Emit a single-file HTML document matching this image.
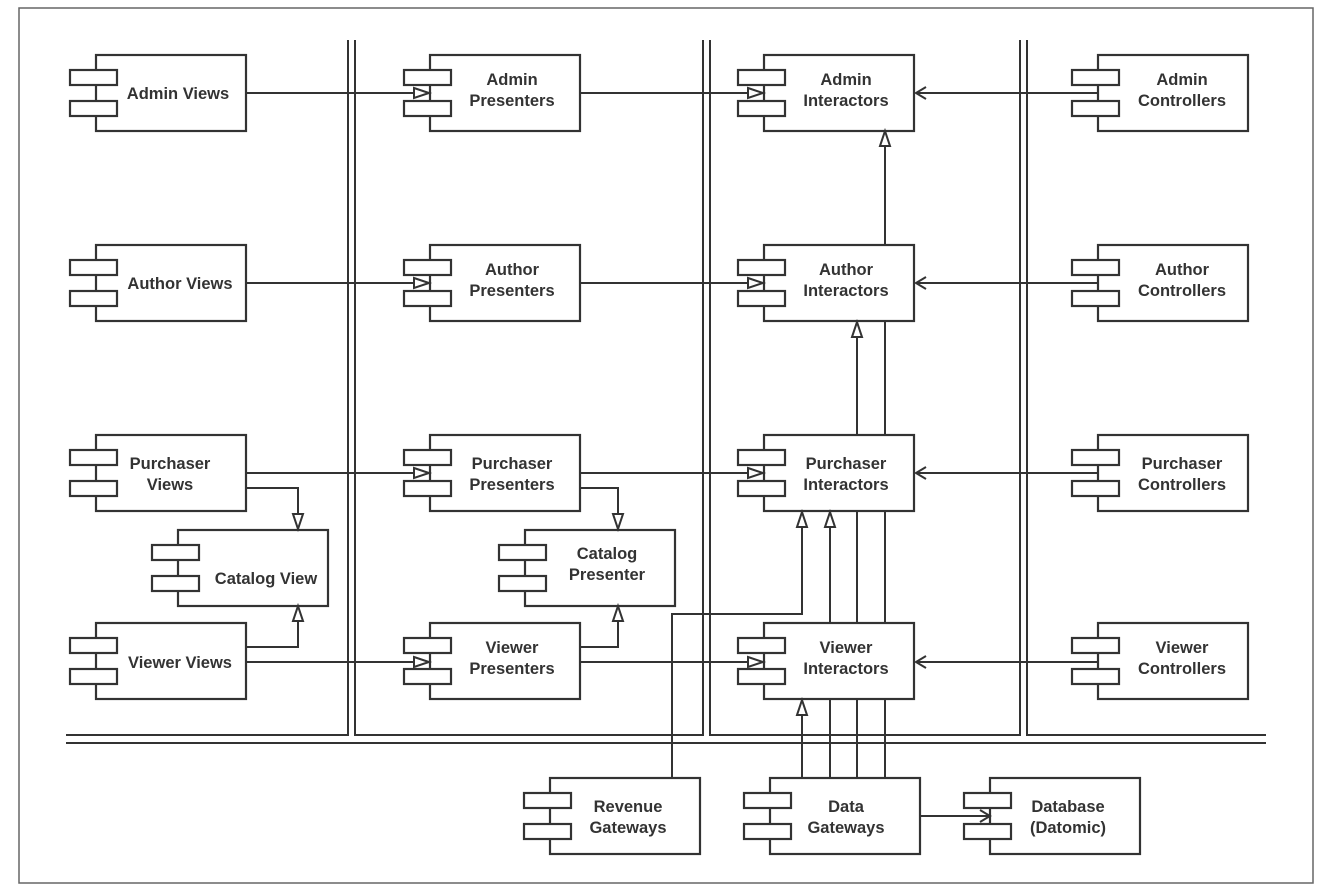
<!DOCTYPE html>
<html><head><meta charset="utf-8"><style>
html,body{margin:0;padding:0;background:#fff}
svg{display:block}
text{font-family:"Liberation Sans",sans-serif;font-weight:bold;font-size:16.5px;fill:#333;text-anchor:middle}
</style></head><body>
<svg width="1328" height="892" viewBox="0 0 1328 892" xmlns="http://www.w3.org/2000/svg">
<defs>
<g id="comp">
<rect x="0" y="0" width="150" height="76" fill="#fff" stroke="#333" stroke-width="2.2"/>
<rect x="-26" y="15" width="47" height="15" fill="#fff" stroke="#333" stroke-width="2.2"/>
<rect x="-26" y="46" width="47" height="15" fill="#fff" stroke="#333" stroke-width="2.2"/>
</g>
</defs>
<rect x="19" y="8" width="1294" height="875" fill="#fff" stroke="#666" stroke-width="1.5"/>
<g fill="none" stroke="#333" stroke-width="2">
<polyline points="348,40 348,735 66,735"/>
<polyline points="355,40 355,735 703,735 703,40"/>
<polyline points="710,40 710,735 1020,735 1020,40"/>
<polyline points="1027,40 1027,735 1266,735"/>
<line x1="66" y1="743" x2="1266" y2="743"/>
</g>
<g fill="none" stroke="#333" stroke-width="2">
<line x1="246" y1="93" x2="430" y2="93"/>
<line x1="246" y1="283" x2="430" y2="283"/>
<line x1="246" y1="473" x2="430" y2="473"/>
<line x1="246" y1="662" x2="430" y2="662"/>
<line x1="580" y1="93" x2="764" y2="93"/>
<line x1="580" y1="283" x2="764" y2="283"/>
<line x1="580" y1="473" x2="764" y2="473"/>
<line x1="580" y1="662" x2="764" y2="662"/>
<line x1="1098" y1="93" x2="916" y2="93"/>
<line x1="1098" y1="283" x2="916" y2="283"/>
<line x1="1098" y1="473" x2="916" y2="473"/>
<line x1="1098" y1="662" x2="916" y2="662"/>
<polyline points="246,488 298,488 298,528"/>
<polyline points="246,647 298,647 298,607"/>
<polyline points="580,488 618,488 618,528"/>
<polyline points="580,647 618,647 618,607"/>
<line x1="885" y1="245" x2="885" y2="132"/>
<line x1="857" y1="435" x2="857" y2="323"/>
<line x1="885" y1="435" x2="885" y2="321"/>
<line x1="830" y1="623" x2="830" y2="513"/>
<line x1="857" y1="623" x2="857" y2="511"/>
<line x1="885" y1="623" x2="885" y2="511"/>
<line x1="802" y1="778" x2="802" y2="701"/>
<line x1="830" y1="778" x2="830" y2="699"/>
<line x1="857" y1="778" x2="857" y2="699"/>
<line x1="885" y1="778" x2="885" y2="699"/>
<polyline points="672,778 672,614 802,614 802,513"/>
<line x1="920" y1="816" x2="990" y2="816"/>
<polyline points="926,87 916,93 926,99"/>
<polyline points="926,277 916,283 926,289"/>
<polyline points="926,467 916,473 926,479"/>
<polyline points="926,656 916,662 926,668"/>
</g>
<g>
<use href="#comp" x="96" y="55"/>
<use href="#comp" x="96" y="245"/>
<use href="#comp" x="96" y="435"/>
<use href="#comp" x="178" y="530"/>
<use href="#comp" x="96" y="623"/>
<use href="#comp" x="430" y="55"/>
<use href="#comp" x="430" y="245"/>
<use href="#comp" x="430" y="435"/>
<use href="#comp" x="525" y="530"/>
<use href="#comp" x="430" y="623"/>
<use href="#comp" x="764" y="55"/>
<use href="#comp" x="764" y="245"/>
<use href="#comp" x="764" y="435"/>
<use href="#comp" x="764" y="623"/>
<use href="#comp" x="1098" y="55"/>
<use href="#comp" x="1098" y="245"/>
<use href="#comp" x="1098" y="435"/>
<use href="#comp" x="1098" y="623"/>
<use href="#comp" x="550" y="778"/>
<use href="#comp" x="770" y="778"/>
<use href="#comp" x="990" y="778"/>
</g>
<g fill="none" stroke="#333" stroke-width="2">
<line x1="404" y1="93" x2="430" y2="93"/><line x1="404" y1="283" x2="430" y2="283"/>
<line x1="404" y1="473" x2="430" y2="473"/><line x1="404" y1="662" x2="430" y2="662"/>
<line x1="738" y1="93" x2="764" y2="93"/><line x1="738" y1="283" x2="764" y2="283"/>
<line x1="738" y1="473" x2="764" y2="473"/><line x1="738" y1="662" x2="764" y2="662"/>
<line x1="964" y1="816" x2="990" y2="816"/>
<polyline points="980,810 990,816 980,822"/>
</g>
<g fill="#fff" stroke="#333" stroke-width="2">
<polygon points="414,88 429,93 414,98"/><polygon points="414,278 429,283 414,288"/>
<polygon points="414,468 429,473 414,478"/><polygon points="414,657 429,662 414,667"/>
<polygon points="748,88 763,93 748,98"/><polygon points="748,278 763,283 748,288"/>
<polygon points="748,468 763,473 748,478"/><polygon points="748,657 763,662 748,667"/>
<polygon points="293,514 298,529 303,514"/><polygon points="293,621 298,606 303,621"/>
<polygon points="613,514 618,529 623,514"/><polygon points="613,621 618,606 623,621"/>
<polygon points="880,146 885,131 890,146"/>
<polygon points="852,337 857,322 862,337"/>
<polygon points="797,527 802,512 807,527"/>
<polygon points="825,527 830,512 835,527"/>
<polygon points="797,715 802,700 807,715"/>
</g>
<g>
<text x="178" y="99">Admin Views</text>
<text x="180" y="289">Author Views</text>
<text x="170" y="469">Purchaser</text><text x="170" y="490">Views</text>
<text x="266" y="584">Catalog View</text>
<text x="180" y="668">Viewer Views</text>
<text x="512" y="85">Admin</text><text x="512" y="106">Presenters</text>
<text x="512" y="275">Author</text><text x="512" y="296">Presenters</text>
<text x="512" y="469">Purchaser</text><text x="512" y="490">Presenters</text>
<text x="607" y="559">Catalog</text><text x="607" y="580">Presenter</text>
<text x="512" y="653">Viewer</text><text x="512" y="674">Presenters</text>
<text x="846" y="85">Admin</text><text x="846" y="106">Interactors</text>
<text x="846" y="275">Author</text><text x="846" y="296">Interactors</text>
<text x="846" y="469">Purchaser</text><text x="846" y="490">Interactors</text>
<text x="846" y="653">Viewer</text><text x="846" y="674">Interactors</text>
<text x="1182" y="85">Admin</text><text x="1182" y="106">Controllers</text>
<text x="1182" y="275">Author</text><text x="1182" y="296">Controllers</text>
<text x="1182" y="469">Purchaser</text><text x="1182" y="490">Controllers</text>
<text x="1182" y="653">Viewer</text><text x="1182" y="674">Controllers</text>
<text x="628" y="812">Revenue</text><text x="628" y="833">Gateways</text>
<text x="846" y="812">Data</text><text x="846" y="833">Gateways</text>
<text x="1068" y="812">Database</text><text x="1068" y="833">(Datomic)</text>
</g>
</svg>
</body></html>
